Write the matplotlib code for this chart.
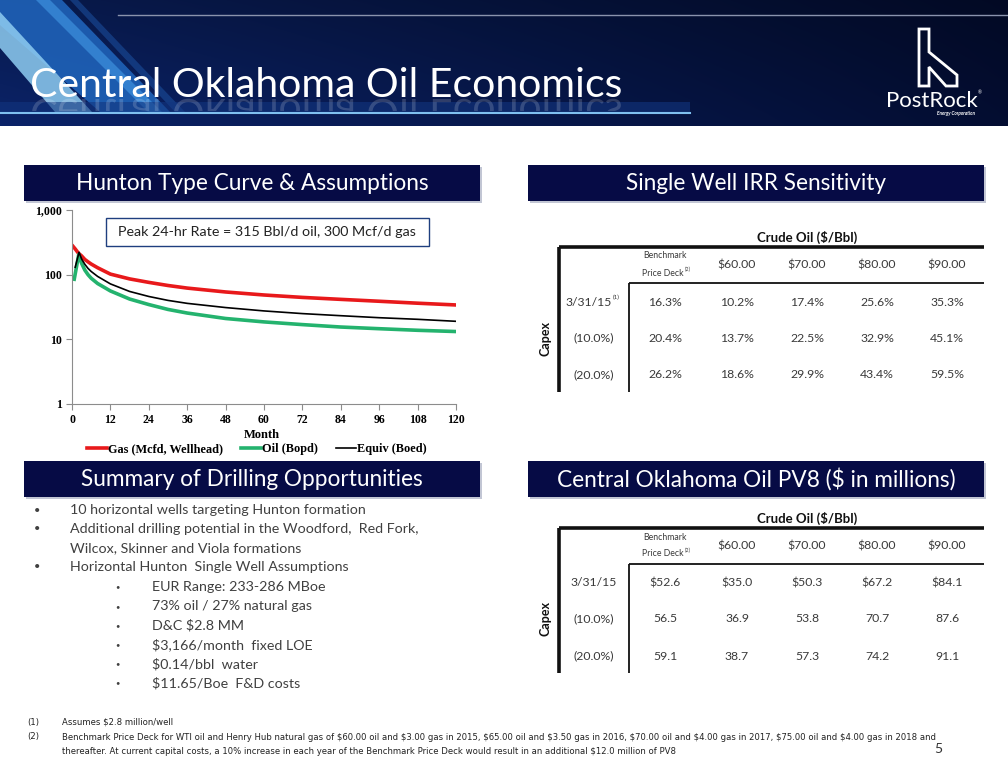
import numpy as np
import matplotlib
matplotlib.use("Agg")
import matplotlib.pyplot as plt
from matplotlib.patches import Rectangle, Polygon, PathPatch
from matplotlib.textpath import TextPath
from matplotlib.font_manager import FontProperties
from matplotlib.transforms import Affine2D
from matplotlib.ticker import NullLocator

plt.rcParams["font.family"] = ["Lato", "DejaVu Sans"]

# ---- type curve data ----
gas_month = [0.3, 1, 2, 3, 4, 5, 6, 8, 12, 18, 24, 30, 36, 48, 60, 72, 84, 96, 108, 120]
gas_rate = [275, 250, 215, 195, 172, 158, 146, 128, 102, 86, 76, 68, 62, 54, 48.5, 44.5, 41.5, 38.8, 36.2, 34]
oil_month = [0.7, 2.1, 3, 4, 5, 6, 8, 12, 18, 24, 30, 36, 48, 60, 72, 84, 96, 108, 120]
oil_rate = [85, 205, 150, 118, 100, 88, 73, 56, 42, 34.5, 29, 25.5, 21, 18.6, 16.9, 15.5, 14.6, 13.8, 13.2]
eq_month = [1.0, 2.2, 3, 4, 5, 6, 8, 12, 18, 24, 30, 36, 48, 60, 72, 84, 96, 108, 120]
eq_rate = [130, 222, 175, 145, 125, 112, 94, 72, 55, 46, 40, 36, 31, 27.5, 25, 23.2, 21.6, 20.4, 19]

# ---- tables ----
price_cols = ["$60.00", "$70.00", "$80.00", "$90.00"]
capex_rows = ["3/31/15", "(10.0%)", "(20.0%)"]
irr_vals = [[16.3, 10.2, 17.4, 25.6, 35.3],
            [20.4, 13.7, 22.5, 32.9, 45.1],
            [26.2, 18.6, 29.9, 43.4, 59.5]]
pv8_vals = [[52.6, 35.0, 50.3, 67.2, 84.1],
            [56.5, 36.9, 53.8, 70.7, 87.6],
            [59.1, 38.7, 57.3, 74.2, 91.1]]

bullets = ["10 horizontal wells targeting Hunton formation",
           "Additional drilling potential in the Woodford,  Red Fork,",
           "Wilcox, Skinner and Viola formations",
           "Horizontal Hunton  Single Well Assumptions"]
bullet_marks = [True, True, False, True]
sub_bullets = ["EUR Range: 233-286 MBoe", "73% oil / 27% natural gas", "D&C $2.8 MM",
               "$3,166/month  fixed LOE", "$0.14/bbl  water", "$11.65/Boe  F&D costs"]

foot1 = "Assumes $2.8 million/well"
foot2 = ("Benchmark Price Deck for WTI oil and Henry Hub natural gas of $60.00 oil and $3.00 gas in 2015, "
         "$65.00 oil and $3.50 gas in 2016, $70.00 oil and $4.00 gas in 2017, $75.00 oil and $4.00 gas in 2018 and")
foot3 = ("thereafter. At current capital costs, a 10% increase in each year of the Benchmark Price Deck "
         "would result in an additional $12.0 million of PV8")

navy = "#060b45"

fig = plt.figure(figsize=(10.08, 7.68), dpi=100)
bg = fig.add_axes([0, 0, 1, 1])

# header background
xs = np.linspace(0, 1, 1008)
ys = np.linspace(0, 1, 126)
left_c = np.array([10, 32, 95]) / 255
right_c = np.array([3, 12, 45]) / 255
grad = left_c[None, None, :] * (1 - xs[None, :, None]) + right_c[None, None, :] * xs[None, :, None]
grad = grad * (0.8 + 0.3 * ys[:, None, None])
bg.imshow(np.clip(grad, 0, 1), extent=(0, 1008, 126, 0), aspect="auto", zorder=0)

for pts, col, a in [
    ([(0, 0), (62, 0), (170, 112), (100, 112), (0, 25)], "#1f62b8", 0.9),
    ([(0, 12), (0, 48), (55, 112), (92, 112)], "#8fcdf2", 0.85),
    ([(36, 0), (50, 0), (162, 112), (148, 112)], "#3a8ad8", 0.8),
    ([(70, 0), (78, 0), (185, 112), (175, 112)], "#1a4c9a", 0.6),
]:
    bg.add_patch(Polygon(pts, closed=True, fc=col, ec="none", alpha=a, zorder=1))

bg.add_patch(Rectangle((0, 102), 690, 10, fc="#12357f", ec="none", alpha=0.6, zorder=1))
bg.plot([0, 690], [113, 113], color="#7fc0f0", lw=1.5, zorder=2)
bg.plot([118, 1008], [15, 15], color="#8a93ad", lw=1, zorder=2)

title = "Central Oklahoma Oil Economics"
tsize = 29.5
bg.text(30, 97, title, color="white", fontsize=tsize, va="baseline", ha="left", zorder=3)
fp = FontProperties(family="Lato", size=tsize)
tp = TextPath((0, 0), title, size=tsize / 0.72, prop=fp)
clip = bg.add_patch(Rectangle((0, 98), 700, 13, fc="none", ec="none"))
refl = PathPatch(tp, transform=Affine2D().translate(30, 99) + bg.transData,
                 fc="white", ec="none", alpha=0.17, zorder=3)
bg.add_patch(refl)
refl.set_clip_path(clip)

# logo
logo = [(919, 29), (929, 29), (929, 52), (957, 75), (957, 86), (946, 86),
        (929, 67), (929, 86), (919, 86)]
bg.add_patch(Polygon(logo, closed=True, fill=False, ec="white", lw=2, zorder=3))
bg.text(932, 101, "PostRock", color="white", fontsize=16, ha="center", va="center", zorder=3)
bg.text(980, 93, "\u00ae", color="white", fontsize=3.5, ha="center", va="center", zorder=3)
bg.text(956, 114, "Energy Corporation", color="white", fontsize=3.3, fontstyle="italic",
        fontweight="bold", ha="center", va="center", zorder=3)

# section headers
for x0, y0, txt in [(24, 165, "Hunton Type Curve & Assumptions"),
                    (528, 165, "Single Well IRR Sensitivity"),
                    (24, 461, "Summary of Drilling Opportunities"),
                    (528, 461, "Central Oklahoma Oil PV8 ($ in millions)")]:
    bg.add_patch(Rectangle((x0 + 2, y0 + 2), 456, 36, fc="#9aa0b8", ec="none", alpha=0.6, zorder=1))
    bg.add_patch(Rectangle((x0, y0), 456, 36, fc=navy, ec="none", zorder=2))
    bg.text(x0 + 228, y0 + 18.5, txt, color="white", fontsize=16.3, ha="center", va="center", zorder=3)

# tables
col_x = [665, 737, 807, 877, 947]


def draw_table(top, vals, fmt_first, fmt_rest, sup_row):
    k = "#111111"
    bg.text(807, top - 10, "Crude Oil ($/Bbl)", fontsize=9.5, fontweight="bold", ha="center", va="center", color=k)
    bg.plot([559, 984], [top, top], color=k, lw=2.6, solid_capstyle="butt")
    bg.plot([559, 559], [top, top + 145], color=k, lw=2.6, solid_capstyle="butt")
    bg.plot([629, 984], [top + 36, top + 36], color=k, lw=1.3, solid_capstyle="butt")
    bg.plot([629, 629], [top + 36, top + 145], color=k, lw=1.3, solid_capstyle="butt")
    gray = "#3a3a3a"
    bg.text(665, top + 9, "Benchmark", fontsize=6.3, ha="center", va="center", color=gray)
    bg.text(684, top + 26, "Price Deck", fontsize=6.3, ha="right", va="center", color=gray)
    bg.text(685, top + 22, "(2)", fontsize=4, ha="left", va="center", color=gray)
    for j, c in enumerate(price_cols):
        bg.text(col_x[j + 1], top + 18, c, fontsize=8.8, ha="center", va="center", color=gray)
    row_y = [top + 55, top + 91, top + 128]
    for i, r in enumerate(capex_rows):
        if i == 0 and sup_row:
            bg.text(612, row_y[i], r, fontsize=8.8, ha="right", va="center", color=gray)
            bg.text(612.5, row_y[i] - 5, "(1)", fontsize=4.5, ha="left", va="center", color=gray)
        else:
            bg.text(594, row_y[i], r, fontsize=8.8, ha="center", va="center", color=gray)
        for j, v in enumerate(vals[i]):
            s = fmt_first(v) if i == 0 else fmt_rest(v)
            bg.text(col_x[j], row_y[i], s, fontsize=8.8, ha="center", va="center", color=gray)
    bg.text(545, row_y[1], "Capex", fontsize=9, fontweight="bold", rotation=90,
            ha="center", va="center", color=k)


draw_table(247, irr_vals, lambda v: f"{v:.1f}%", lambda v: f"{v:.1f}%", True)
draw_table(528, pv8_vals, lambda v: f"${v:.1f}", lambda v: f"{v:.1f}", False)

# bullets
tcol = "#404040"
for k, (b, m) in enumerate(zip(bullets, bullet_marks)):
    y = 510 + k * 19
    if m:
        bg.text(37, y, "\u2022", fontsize=8, ha="center", va="center", color=tcol)
    bg.text(70, y, b, fontsize=10.3, ha="left", va="center", color=tcol)
for k, sb in enumerate(sub_bullets):
    y = 587 + k * 19.2
    bg.text(117, y, "\u2022", fontsize=5.5, ha="center", va="center", color=tcol)
    bg.text(152, y, sb, fontsize=10.3, ha="left", va="center", color=tcol)

# footnotes
fn = ["Liberation Sans Narrow", "DejaVu Sans"]
fkw = dict(fontsize=6.1, family=fn, ha="left", va="center", color="#222222", parse_math=False)
bg.text(27, 722, "(1)", **fkw)
bg.text(62, 722, foot1, **fkw)
bg.text(27, 737, "(2)", **fkw)
bg.text(62, 737, foot2, **fkw)
bg.text(62, 751, foot3, **fkw)
bg.text(938, 749, "5", fontsize=10, ha="center", va="center", color="#333333")

# annotation box
bg.add_patch(Rectangle((106, 218), 323, 28, fc="white", ec="#1f3f7f", lw=1, zorder=5))
bg.text(267, 232.5, "Peak 24-hr Rate = 315 Bbl/d oil, 300 Mcf/d gas", fontsize=10.3, ha="center",
        va="center", color="#222222", zorder=6)

bg.set_xlim(0, 1008)
bg.set_ylim(768, 0)
bg.axis("off")

# ---- type curve chart ----
serif = ["Liberation Serif", "DejaVu Serif"]
ax = fig.add_axes([72 / 1008, 1 - 404 / 768, 384 / 1008, 194 / 768])
ax.patch.set_alpha(0)
ax.plot(gas_month, gas_rate, color="#e8191b", lw=2.6, label="Gas (Mcfd, Wellhead)")
ax.plot(oil_month, oil_rate, color="#24b36e", lw=2.6, label="Oil (Bopd)")
ax.plot(eq_month, eq_rate, color="black", lw=1.2, label="Equiv (Boed)")
ax.set_yscale("log")
ax.set_ylim(1, 1000)
ax.set_xlim(0, 120)
ax.set_xticks(range(0, 121, 12))
ax.set_yticks([1, 10, 100, 1000])
ax.set_yticklabels(["1", "10", "100", "1,000"])
ax.yaxis.set_minor_locator(NullLocator())
for s in ["top", "right"]:
    ax.spines[s].set_visible(False)
for s in ["left", "bottom"]:
    ax.spines[s].set_color("#8c8c8c")
ax.tick_params(colors="#8c8c8c", length=4, labelcolor="black", pad=3)
for lab in ax.get_xticklabels() + ax.get_yticklabels():
    lab.set_family(serif)
    lab.set_fontweight("bold")
    lab.set_fontsize(8.5)
bg.text(262, 435, "Month", family=serif, fontweight="bold", fontsize=9, ha="center", va="center")
fig.legend(loc="center", bbox_to_anchor=(257 / 1008, 1 - 449 / 768), ncol=3, frameon=False,
           handlelength=1.6, handletextpad=0.1, columnspacing=1.5, borderpad=0.1,
           prop={"family": serif, "weight": "bold", "size": 8.8})

fig.savefig("out.png", dpi=100)
